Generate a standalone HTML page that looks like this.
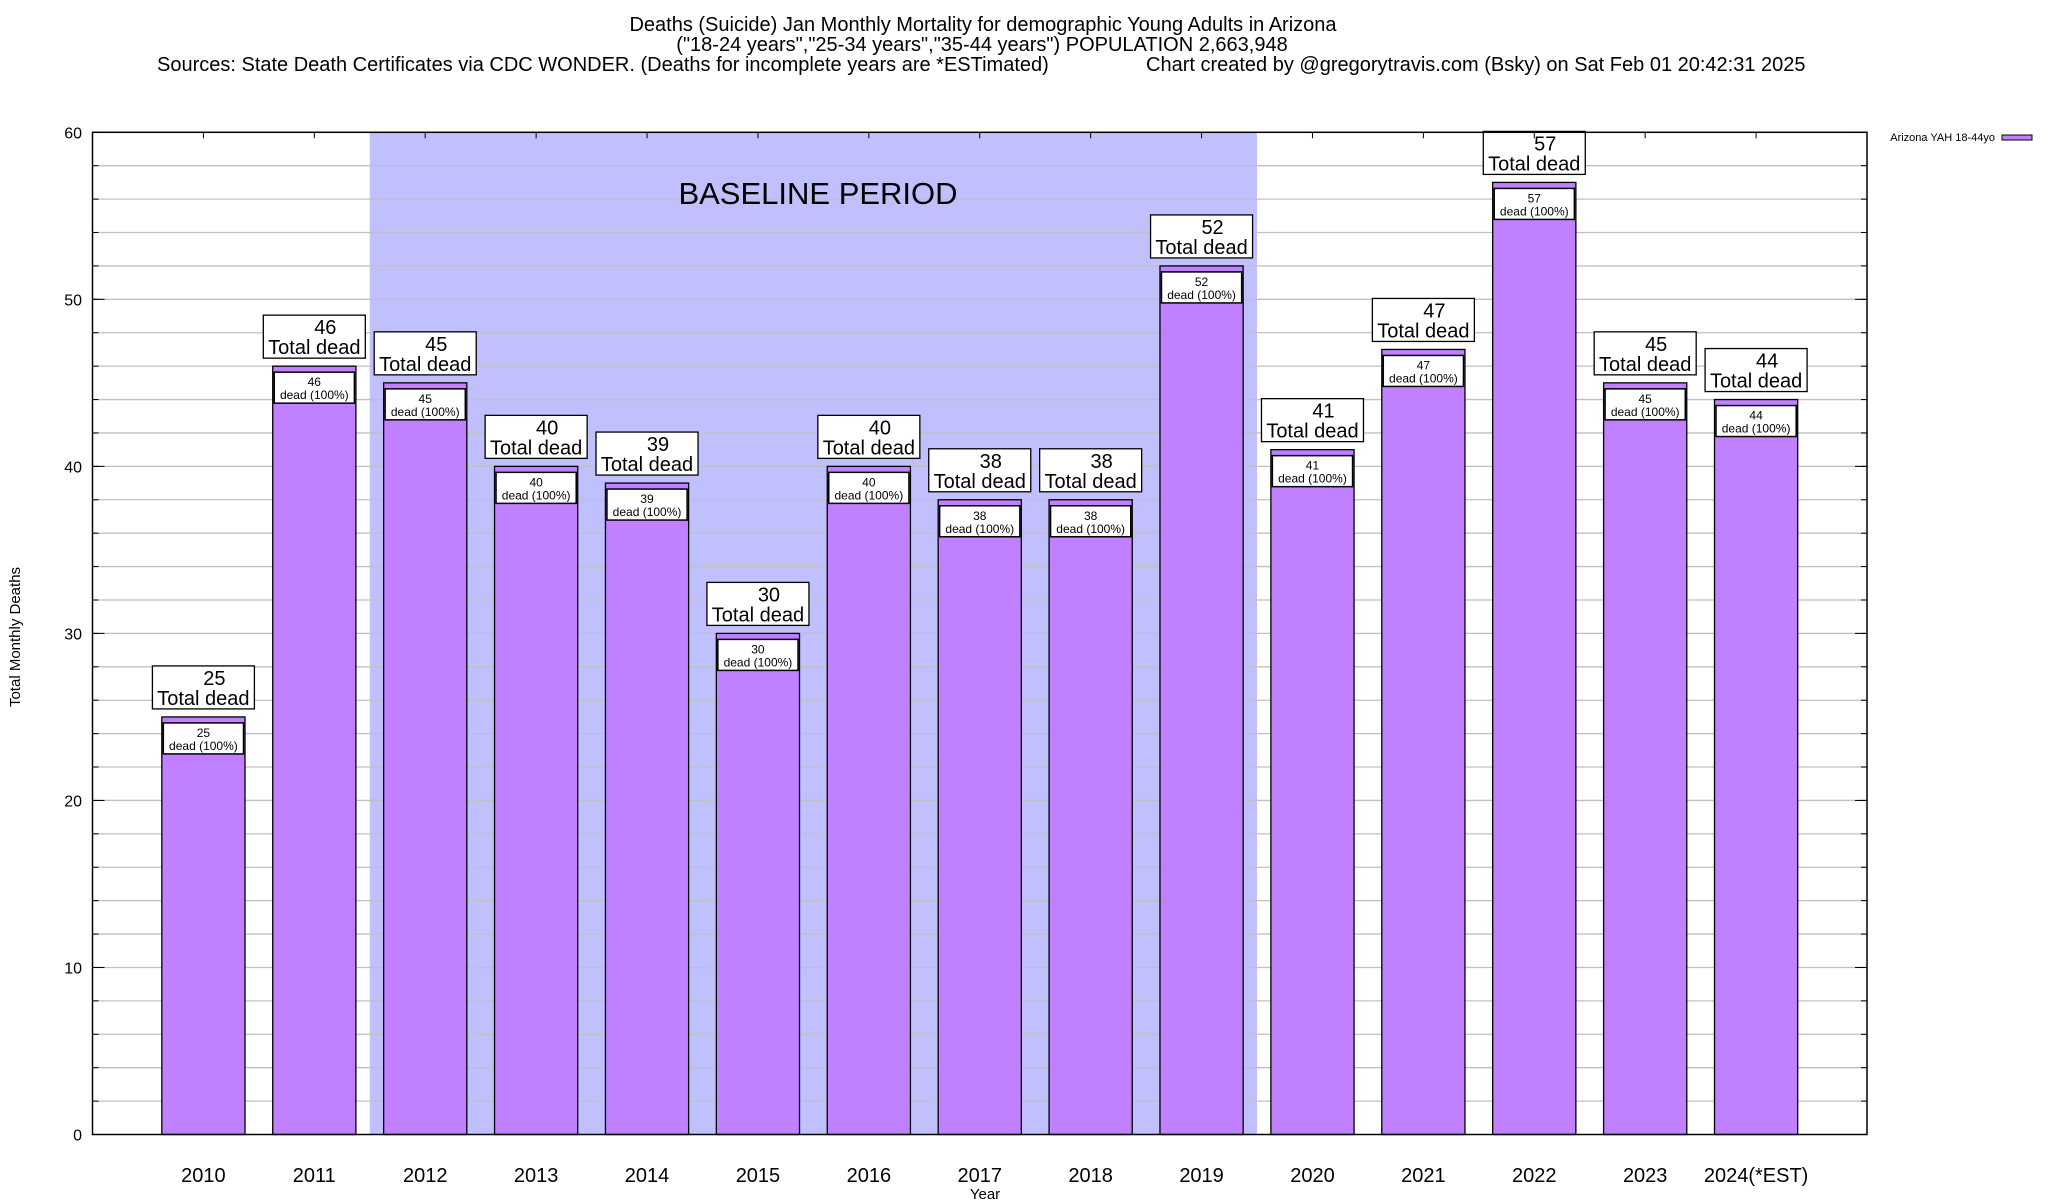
<!DOCTYPE html>
<html><head><meta charset="utf-8"><style>
html,body{margin:0;padding:0;background:#fff;}
svg{display:block;font-family:"Liberation Sans",sans-serif;}
</style></head><body>
<svg id="chart" width="2048" height="1200" viewBox="0 0 2048 1200" xmlns="http://www.w3.org/2000/svg">
<g font-size="20" fill="#000">
<text x="983" y="31" text-anchor="middle">Deaths (Suicide) Jan Monthly Mortality for demographic Young Adults in Arizona</text>
<text x="982" y="51" text-anchor="middle">("18-24 years","25-34 years","35-44 years") POPULATION 2,663,948</text>
<text x="157" y="71" text-anchor="start">Sources: State Death Certificates via CDC WONDER. (Deaths for incomplete years are *ESTimated)</text>
<text x="1146" y="71" text-anchor="start">Chart created by @gregorytravis.com (Bsky) on Sat Feb 01 20:42:31 2025</text>
</g>
<g id="plot"></g>
<text x="20" y="637" font-size="15" text-anchor="middle" transform="rotate(-90 20 637)">Total Monthly Deaths</text>
<text x="985" y="1199" font-size="15" text-anchor="middle">Year</text>
<g>
<text x="1995" y="141" font-size="11" text-anchor="end">Arizona YAH 18-44yo</text>
<rect x="2002" y="135" width="30" height="5" fill="#c080ff" stroke="#000" stroke-width="1"/>
</g>
</svg>
<script>
const categories = ["2010","2011","2012","2013","2014","2015","2016","2017","2018","2019","2020","2021","2022","2023","2024(*EST)"];
const values = [25,46,45,40,39,30,40,38,38,52,41,47,57,45,44];
const yTicks = [0,10,20,30,40,50,60];
const baselineStart = 1.5;
const baselineEnd = 9.5;

const NS = "http://www.w3.org/2000/svg";
const L = 92.5, R = 1867, T = 132.3, B = 1134.5;
const xMin = -1, xMax = 15, yMin = 0, yMax = 60;
function xs(v){ return L + (v - xMin) / (xMax - xMin) * (R - L); }
function ys(v){ return B - (v - yMin) / (yMax - yMin) * (B - T); }
const g = document.getElementById('plot');
function mk(tag, attrs, parent){
  const e = document.createElementNS(NS, tag);
  for (const k in attrs) e.setAttribute(k, attrs[k]);
  (parent || g).appendChild(e);
  return e;
}
const band = mk('rect', {x: xs(baselineStart), y: T, width: xs(baselineEnd) - xs(baselineStart), height: B - T, fill: '#c0c0ff'});


for (let v = 2; v < yMax; v += 2) {
  const ln = mk('line', {x1: L, x2: R, y1: ys(v), y2: ys(v), stroke: '#c0c0c0', 'stroke-width': 1.3});
  
  
  const t1 = mk('line', {x1: L, x2: L + 6, y1: ys(v), y2: ys(v), stroke: '#000'});
  
  
  const t2 = mk('line', {x1: R - 6, x2: R, y1: ys(v), y2: ys(v), stroke: '#000'});
  
  
}
const bt = mk('text', {x: 818, y: 204, 'font-size': 31, 'text-anchor': 'middle'});


bt.textContent = 'BASELINE PERIOD';
yTicks.forEach(v => {
  const t = mk('text', {x: 82, y: ys(v) + 6, 'font-size': 16, 'text-anchor': 'end'});
  
  
  t.textContent = v;
  const tk = mk('line', {x1: L, x2: L + 12, y1: ys(v), y2: ys(v), stroke: '#000'});
  
  
  const tk2 = mk('line', {x1: R - 12, x2: R, y1: ys(v), y2: ys(v), stroke: '#000'});
  
  
});
const bw = 0.75;
categories.forEach((c, i) => {
  const v = values[i];
  const x0 = xs(i - bw / 2), x1 = xs(i + bw / 2), cx = xs(i), top = ys(v);
  const bar = mk('rect', {x: x0, y: top, width: x1 - x0, height: B - top, fill: '#c080ff', stroke: '#000', 'stroke-width': 1.3});
  
  
  const ib = mk('rect', {x: x0 + 1.5, y: top + 6, width: x1 - x0 - 3, height: 31, fill: '#fff', stroke: '#000', 'stroke-width': 1.5});
  
  
  const it1 = mk('text', {x: cx, y: top + 20, 'font-size': 12, 'text-anchor': 'middle'});
  
  
  it1.textContent = v;
  const it2 = mk('text', {x: cx, y: top + 33, 'font-size': 12, 'text-anchor': 'middle'});
  
  
  it2.textContent = 'dead (100%)';
  const ob = mk('rect', {x: cx - 51, y: top - 51, width: 102, height: 43, fill: '#fff', stroke: '#000', 'stroke-width': 1.3});
  
  
  const ot1 = mk('text', {x: cx + 11, y: top - 32, 'font-size': 20, 'text-anchor': 'middle'});
  
  
  ot1.textContent = v;
  const ot2 = mk('text', {x: cx, y: top - 12, 'font-size': 20, 'text-anchor': 'middle'});
  
  
  ot2.textContent = 'Total dead';
  const xl = mk('text', {x: cx, y: 1182, 'font-size': 20, 'text-anchor': 'middle'});
  
  
  xl.textContent = c;
  const tk = mk('line', {x1: cx, x2: cx, y1: T, y2: T + 6, stroke: '#000'});
  
  
});
const fr = mk('rect', {x: L, y: T, width: R - L, height: B - T, fill: 'none', stroke: '#000', 'stroke-width': 1.5});


</script>
</body></html>
